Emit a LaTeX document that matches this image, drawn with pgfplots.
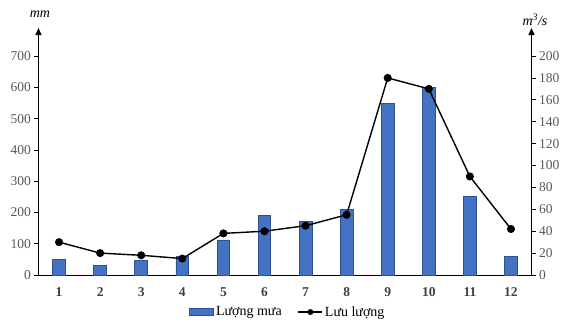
\documentclass[border=0pt]{standalone}
\usepackage{pgfplots}
\pgfplotsset{compat=1.18}
\usepackage{fontspec}
\setmainfont{Liberation Serif}
\usetikzlibrary{arrows.meta}

\definecolor{barblue}{HTML}{4472C4}
\definecolor{baredge}{HTML}{2F528F}
\definecolor{ticktext}{HTML}{595959}
\definecolor{xlabeltext}{HTML}{404040}
\definecolor{baseline}{HTML}{A6A6A6}

\pgfplotsset{
  common/.style={
    at={(38.5pt,52pt)}, anchor=south west,
    scale only axis, width=493pt, height=247pt,
    xmin=0.5, xmax=12.5,
    tick align=outside,
    major tick length=4pt,
    /pgf/number format/assume math mode=true,
    tick label style={font=\fontsize{13.5}{15}\selectfont, text=ticktext},
    y tick style={black, line width=0.8pt},
    y axis line style={black, line width=1.1pt, -{Triangle[length=7pt,width=6pt]}},
    clip=false,
  },
}

\begin{document}
\begin{tikzpicture}
% rainfall (mm), left axis
\begin{axis}[common,
  ymin=0, ymax=790,
  ytick={0,100,...,700},
  axis y line*=left,
  axis x line*=bottom,
  x axis line style={baseline, line width=0.8pt, -},
  xtick={1,...,12},
  x tick style={draw=none},
  x tick label style={font=\fontsize{13.5}{15}\selectfont\bfseries, text=xlabeltext, yshift=-5pt},
]
\addplot[ybar, bar width=0.31, fill=barblue, draw=baredge, line width=0.8pt]
  coordinates {(1,50) (2,30) (3,47) (4,60) (5,112) (6,190) (7,170) (8,210) (9,550) (10,600) (11,250) (12,60)};
\end{axis}
% discharge (m3/s), right axis
\begin{axis}[common,
  ymin=0, ymax=225.6,
  ytick={0,20,...,200},
  axis y line*=right,
  axis x line=none,
  legend style={at={(0.506,-0.15)}, anchor=center, draw=none, fill=none,
    legend columns=2, font=\fontsize{14}{16}\selectfont,
    inner sep=0pt,
    /tikz/every even column/.append style={column sep=14pt}},
  legend cell align=left,
]
\addlegendimage{legend image code/.code={\draw[fill=barblue, draw=baredge, line width=0.6pt] (0pt,-3.5pt) rectangle (24pt,3.5pt);}}
\addlegendentry{Lượng mưa}
\addplot[black, line width=1.4pt, mark=*, mark size=3.3pt,
  legend image code/.code={\draw[black, line width=1.2pt] (0pt,0pt) -- (24pt,0pt); \fill[black] (12pt,0pt) circle (2.2pt);}]
  coordinates {(1,30) (2,20) (3,18) (4,15) (5,38) (6,40) (7,45) (8,55) (9,180) (10,170) (11,90) (12,42)};
\addlegendentry{Lưu lượng}
\end{axis}
\node[font=\fontsize{14}{16}\selectfont\itshape] at (40pt,313pt) {mm};
\node[font=\fontsize{14}{16}\selectfont\itshape] at (535pt,307pt) {m\textsuperscript{3}/s};
\pgfresetboundingbox
\path (0,0) rectangle (570pt,327pt);
\end{tikzpicture}
\end{document}
